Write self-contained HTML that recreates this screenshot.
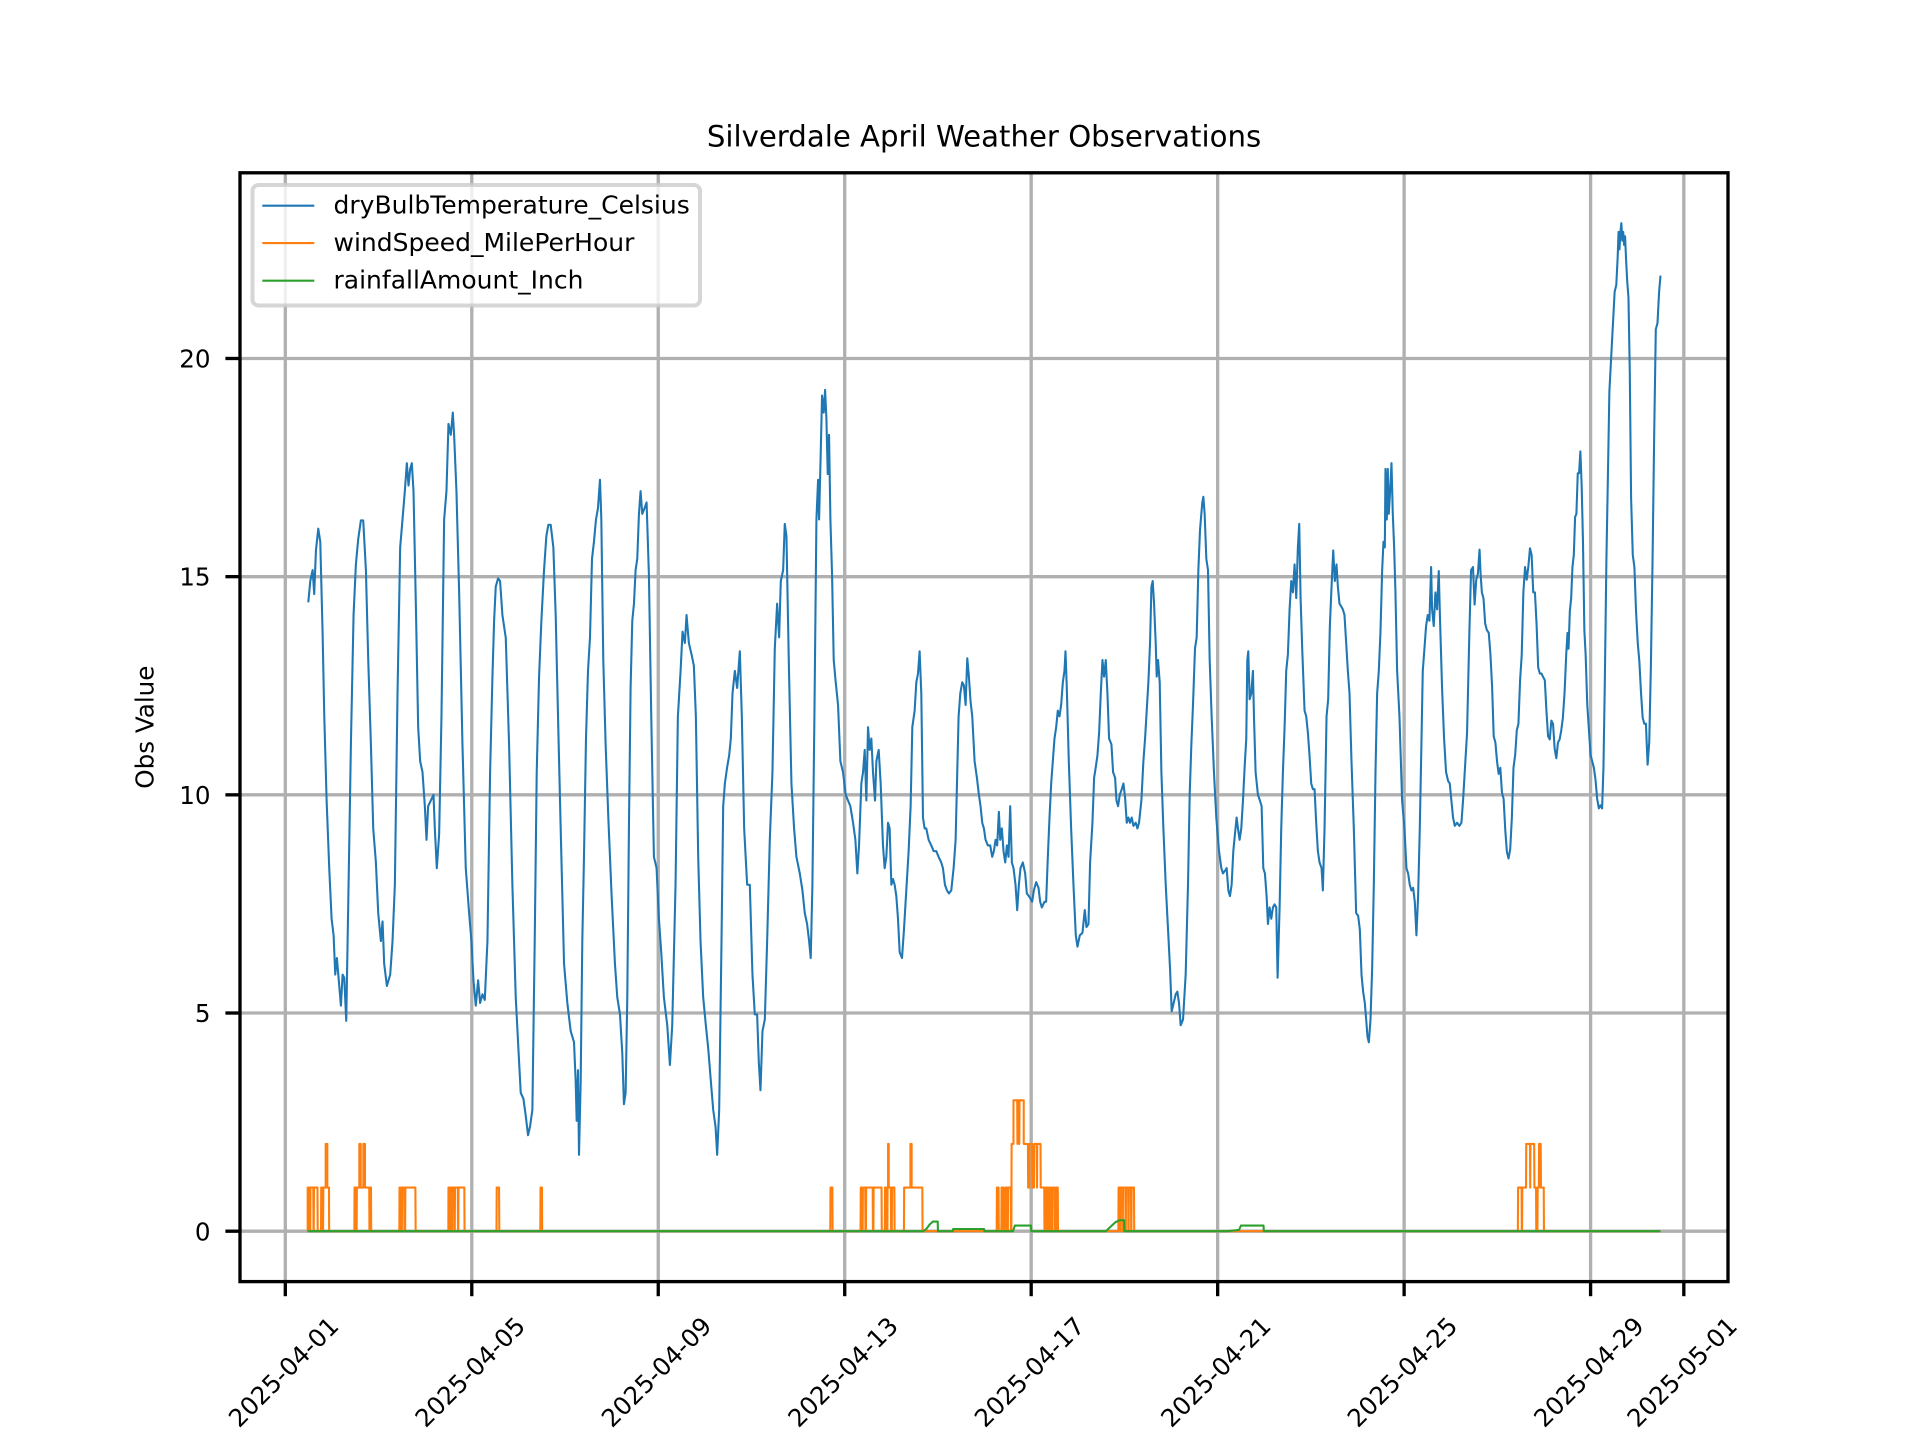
<!DOCTYPE html>
<html>
<head>
<meta charset="utf-8">
<style>
html,body{margin:0;padding:0;background:#fff;}
svg{display:block;}
text{font-family:"DejaVu Sans","Liberation Sans",sans-serif;fill:#000;}
</style>
</head>
<body>
<svg width="1920" height="1440" viewBox="0 0 1920 1440" xmlns="http://www.w3.org/2000/svg">
<rect x="0" y="0" width="1920" height="1440" fill="#fff"/>

<!-- grid -->
<g stroke="#b0b0b0" stroke-width="3.33" fill="none">
<line x1="285.31" y1="172.8" x2="285.31" y2="1281.6"/>
<line x1="471.78" y1="172.8" x2="471.78" y2="1281.6"/>
<line x1="658.25" y1="172.8" x2="658.25" y2="1281.6"/>
<line x1="844.71" y1="172.8" x2="844.71" y2="1281.6"/>
<line x1="1031.18" y1="172.8" x2="1031.18" y2="1281.6"/>
<line x1="1217.65" y1="172.8" x2="1217.65" y2="1281.6"/>
<line x1="1404.12" y1="172.8" x2="1404.12" y2="1281.6"/>
<line x1="1590.59" y1="172.8" x2="1590.59" y2="1281.6"/>
<line x1="1683.82" y1="172.8" x2="1683.82" y2="1281.6"/>
<line x1="240" y1="1231.2" x2="1728" y2="1231.2"/>
<line x1="240" y1="1013.02" x2="1728" y2="1013.02"/>
<line x1="240" y1="794.84" x2="1728" y2="794.84"/>
<line x1="240" y1="576.66" x2="1728" y2="576.66"/>
<line x1="240" y1="358.48" x2="1728" y2="358.48"/>
</g>

<!-- data series -->
<g transform="matrix(46.617 0 0 -43.636 285.31 1231.2)" fill="none" stroke-linejoin="round">
<path vector-effect="non-scaling-stroke" stroke="#1f77b4" stroke-width="2.08" d="M0.493,14.41 L0.536,14.9 L0.586,15.15 L0.62,14.6 L0.657,15.6 L0.707,16.1 L0.75,15.8 L0.8,13.7 L0.836,11.8 L0.886,9.87 L0.943,8.3 L0.993,7.16 L1.036,6.78 L1.071,5.88 L1.107,6.26 L1.157,5.62 L1.193,5.17 L1.229,5.88 L1.264,5.81 L1.307,4.82 L1.357,7.94 L1.407,11.16 L1.464,14.12 L1.514,15.28 L1.564,15.86 L1.621,16.29 L1.671,16.29 L1.729,15.15 L1.779,13.09 L1.836,11.16 L1.886,9.23 L1.943,8.45 L1.993,7.29 L2.05,6.65 L2.086,7.1 L2.121,6.13 L2.179,5.62 L2.25,5.88 L2.3,6.65 L2.35,7.94 L2.407,12.32 L2.464,15.67 L2.514,16.31 L2.564,16.96 L2.607,17.6 L2.643,17.09 L2.679,17.47 L2.714,17.6 L2.75,16.96 L2.8,14.38 L2.85,11.55 L2.893,10.77 L2.943,10.52 L2.993,9.74 L3.029,8.97 L3.064,9.74 L3.121,9.87 L3.179,10.0 L3.207,9.23 L3.25,8.32 L3.3,9.1 L3.35,11.8 L3.407,16.31 L3.457,16.96 L3.5,18.5 L3.55,18.25 L3.593,18.76 L3.621,18.25 L3.671,16.96 L3.729,14.64 L3.8,11.16 L3.871,8.32 L3.943,7.29 L3.993,6.65 L4.036,5.75 L4.086,5.17 L4.136,5.75 L4.179,5.23 L4.229,5.43 L4.279,5.3 L4.336,6.65 L4.393,10.52 L4.443,12.7 L4.479,13.99 L4.514,14.77 L4.564,14.96 L4.607,14.9 L4.657,14.12 L4.729,13.6 L4.8,11.16 L4.871,7.94 L4.943,5.36 L4.993,4.33 L5.05,3.17 L5.107,3.04 L5.157,2.65 L5.207,2.2 L5.25,2.4 L5.3,2.78 L5.35,6.65 L5.393,10.52 L5.443,12.7 L5.493,13.99 L5.55,15.15 L5.6,15.93 L5.643,16.19 L5.693,16.19 L5.75,15.67 L5.8,14.12 L5.85,11.8 L5.907,9.23 L5.979,6.13 L6.05,5.23 L6.121,4.59 L6.193,4.33 L6.229,3.43 L6.25,2.53 L6.279,3.69 L6.3,1.75 L6.336,3.43 L6.371,6.65 L6.407,8.58 L6.45,11.29 L6.493,12.84 L6.536,13.61 L6.579,15.41 L6.621,15.8 L6.664,16.31 L6.707,16.57 L6.75,17.22 L6.779,16.31 L6.821,13.09 L6.871,11.16 L6.929,9.48 L7.0,7.68 L7.071,6.13 L7.121,5.36 L7.179,4.97 L7.229,4.07 L7.264,2.91 L7.3,3.17 L7.336,5.36 L7.371,9.23 L7.407,12.45 L7.443,13.99 L7.479,14.38 L7.514,15.15 L7.55,15.41 L7.586,16.44 L7.621,16.96 L7.657,16.44 L7.707,16.57 L7.75,16.7 L7.8,15.03 L7.85,11.8 L7.907,8.58 L7.964,8.32 L8.014,7.16 L8.064,6.39 L8.121,5.36 L8.193,4.72 L8.25,3.81 L8.3,4.72 L8.371,7.94 L8.421,11.8 L8.429,11.93 L8.479,12.84 L8.521,13.74 L8.571,13.48 L8.607,14.12 L8.657,13.48 L8.714,13.22 L8.764,12.96 L8.807,11.8 L8.857,8.58 L8.907,6.65 L8.964,5.36 L9.021,4.72 L9.071,4.2 L9.129,3.43 L9.179,2.78 L9.229,2.4 L9.264,1.75 L9.307,2.78 L9.357,6.65 L9.393,9.74 L9.429,10.26 L9.479,10.64 L9.521,10.9 L9.557,11.29 L9.593,12.32 L9.643,12.84 L9.693,12.45 L9.75,13.29 L9.793,11.8 L9.843,9.23 L9.907,7.94 L9.964,7.94 L10.021,5.88 L10.071,4.97 L10.121,4.97 L10.157,3.88 L10.193,3.23 L10.236,4.59 L10.286,4.85 L10.336,6.65 L10.393,8.97 L10.45,10.52 L10.5,13.35 L10.55,14.38 L10.593,13.61 L10.629,14.9 L10.679,15.15 L10.714,16.21 L10.75,15.93 L10.8,13.09 L10.857,10.26 L10.914,9.23 L10.964,8.58 L11.036,8.2 L11.093,7.81 L11.143,7.29 L11.193,7.04 L11.236,6.65 L11.271,6.26 L11.307,7.94 L11.35,11.8 L11.393,16.31 L11.429,17.22 L11.45,16.31 L11.486,17.86 L11.514,19.15 L11.55,18.76 L11.579,19.28 L11.607,18.63 L11.636,17.35 L11.664,18.25 L11.693,16.31 L11.729,15.03 L11.764,13.09 L11.807,12.58 L11.857,12.06 L11.907,10.77 L11.964,10.52 L12.021,10.0 L12.071,9.87 L12.121,9.74 L12.179,9.36 L12.229,8.97 L12.271,8.2 L12.307,8.84 L12.357,10.26 L12.393,10.52 L12.429,11.03 L12.464,9.87 L12.5,11.55 L12.536,11.03 L12.571,11.29 L12.607,10.52 L12.65,9.87 L12.679,10.77 L12.729,11.03 L12.771,10.26 L12.821,8.84 L12.857,8.32 L12.893,8.58 L12.929,9.36 L12.964,9.23 L13.0,7.94 L13.036,8.07 L13.071,7.94 L13.107,7.68 L13.143,7.16 L13.179,6.39 L13.229,6.26 L13.271,6.91 L13.321,7.81 L13.371,8.71 L13.414,9.74 L13.45,11.55 L13.5,11.93 L13.536,12.58 L13.571,12.77 L13.607,13.29 L13.643,12.32 L13.679,9.48 L13.714,9.23 L13.75,9.23 L13.8,8.97 L13.857,8.84 L13.907,8.71 L13.964,8.71 L14.014,8.58 L14.071,8.45 L14.107,8.32 L14.15,7.94 L14.193,7.81 L14.236,7.74 L14.286,7.81 L14.336,8.32 L14.379,8.97 L14.414,10.52 L14.443,11.8 L14.479,12.32 L14.521,12.58 L14.557,12.51 L14.593,12.06 L14.629,13.13 L14.664,12.71 L14.7,12.13 L14.736,11.8 L14.786,10.77 L14.836,10.39 L14.879,10.0 L14.914,9.74 L14.95,9.36 L14.986,9.23 L15.021,8.97 L15.071,8.84 L15.121,8.84 L15.164,8.58 L15.2,8.71 L15.236,8.97 L15.271,8.84 L15.307,9.61 L15.336,8.97 L15.371,9.23 L15.407,8.71 L15.443,8.45 L15.479,8.84 L15.514,8.58 L15.55,9.74 L15.586,8.45 L15.621,8.32 L15.664,7.94 L15.7,7.36 L15.736,7.94 L15.771,8.32 L15.821,8.45 L15.871,8.2 L15.907,7.74 L15.95,7.68 L15.986,7.62 L16.021,7.55 L16.057,7.81 L16.107,8.0 L16.157,7.87 L16.193,7.55 L16.229,7.42 L16.286,7.55 L16.321,7.55 L16.357,8.58 L16.393,9.48 L16.429,10.26 L16.464,10.77 L16.5,11.29 L16.536,11.55 L16.571,11.93 L16.607,11.8 L16.643,12.06 L16.679,12.58 L16.714,12.84 L16.736,13.29 L16.764,12.45 L16.807,10.77 L16.857,9.23 L16.907,7.94 L16.957,6.78 L16.993,6.52 L17.043,6.78 L17.1,6.84 L17.15,7.36 L17.186,6.97 L17.229,7.04 L17.264,8.45 L17.314,9.36 L17.35,10.39 L17.386,10.64 L17.421,10.9 L17.457,11.42 L17.493,12.32 L17.529,13.09 L17.564,12.71 L17.6,13.09 L17.636,12.32 L17.671,11.29 L17.721,11.16 L17.757,10.52 L17.8,10.39 L17.829,9.87 L17.864,9.74 L17.9,10.0 L17.943,10.13 L17.979,10.26 L18.014,9.94 L18.05,9.36 L18.086,9.48 L18.121,9.36 L18.157,9.48 L18.193,9.29 L18.243,9.36 L18.279,9.23 L18.314,9.36 L18.364,9.87 L18.407,10.77 L18.443,11.29 L18.471,11.8 L18.514,12.58 L18.55,13.48 L18.579,14.77 L18.607,14.9 L18.636,14.38 L18.671,13.48 L18.693,12.71 L18.721,13.09 L18.757,12.58 L18.793,10.52 L18.836,9.23 L18.886,7.94 L18.936,6.91 L18.979,6.01 L19.014,5.04 L19.057,5.23 L19.1,5.43 L19.136,5.49 L19.171,5.23 L19.207,4.72 L19.257,4.85 L19.314,5.88 L19.364,7.94 L19.4,10.0 L19.436,11.16 L19.471,12.06 L19.514,13.35 L19.55,13.61 L19.586,15.15 L19.621,16.06 L19.65,16.44 L19.671,16.7 L19.693,16.83 L19.721,16.44 L19.757,15.41 L19.793,15.15 L19.829,13.09 L19.871,11.8 L19.921,10.52 L19.971,9.48 L20.029,8.71 L20.079,8.32 L20.114,8.2 L20.157,8.26 L20.193,8.32 L20.229,7.81 L20.264,7.68 L20.3,7.94 L20.336,8.71 L20.371,9.1 L20.407,9.48 L20.436,9.23 L20.471,8.97 L20.507,9.23 L20.543,9.87 L20.579,10.64 L20.614,11.29 L20.636,13.09 L20.657,13.29 L20.686,12.19 L20.721,12.32 L20.757,12.84 L20.779,11.8 L20.814,10.52 L20.864,10.0 L20.907,9.87 L20.943,9.74 L20.979,8.32 L21.014,8.2 L21.05,7.68 L21.079,7.04 L21.114,7.42 L21.15,7.16 L21.186,7.42 L21.221,7.49 L21.257,7.42 L21.286,5.81 L21.329,7.42 L21.364,9.23 L21.4,10.52 L21.436,11.55 L21.471,12.84 L21.507,13.22 L21.543,14.25 L21.579,14.9 L21.614,14.64 L21.65,15.28 L21.686,14.51 L21.721,15.67 L21.75,16.21 L21.779,14.51 L21.814,13.35 L21.864,11.93 L21.9,11.8 L21.936,11.42 L21.971,10.9 L22.007,10.26 L22.043,10.13 L22.079,10.13 L22.114,9.36 L22.15,8.71 L22.186,8.45 L22.229,8.32 L22.257,7.81 L22.293,9.23 L22.336,11.8 L22.371,12.19 L22.407,13.87 L22.443,14.77 L22.479,15.6 L22.514,14.9 L22.55,15.28 L22.579,14.77 L22.614,14.38 L22.65,14.32 L22.686,14.25 L22.721,14.12 L22.757,13.48 L22.793,12.84 L22.829,12.32 L22.871,10.77 L22.921,9.23 L22.971,7.29 L23.014,7.23 L23.05,6.91 L23.086,5.88 L23.121,5.49 L23.157,5.23 L23.186,4.85 L23.214,4.46 L23.243,4.33 L23.279,4.85 L23.314,6.01 L23.35,7.94 L23.386,10.52 L23.421,12.32 L23.457,12.84 L23.493,13.74 L23.529,15.15 L23.557,15.8 L23.586,15.67 L23.6,17.47 L23.629,16.31 L23.65,17.47 L23.671,16.44 L23.7,16.96 L23.729,17.6 L23.757,16.44 L23.786,15.67 L23.814,14.64 L23.85,12.84 L23.9,11.8 L23.957,9.87 L24.007,9.23 L24.05,8.32 L24.086,8.2 L24.121,7.94 L24.157,7.81 L24.193,7.87 L24.229,7.55 L24.264,6.78 L24.3,7.68 L24.336,9.23 L24.371,11.16 L24.4,12.84 L24.436,13.35 L24.471,13.87 L24.507,14.12 L24.543,13.99 L24.579,15.22 L24.6,14.25 L24.636,13.87 L24.671,14.64 L24.707,14.25 L24.743,15.13 L24.771,13.99 L24.814,12.45 L24.857,11.29 L24.9,10.52 L24.943,10.32 L24.979,10.26 L25.014,9.87 L25.05,9.48 L25.086,9.29 L25.136,9.36 L25.186,9.29 L25.229,9.36 L25.264,9.87 L25.3,10.52 L25.35,11.42 L25.4,13.74 L25.436,15.15 L25.477,15.22 L25.512,14.36 L25.547,14.93 L25.583,15.07 L25.618,15.62 L25.64,15.07 L25.668,14.64 L25.703,14.5 L25.739,13.92 L25.774,13.78 L25.816,13.71 L25.852,13.21 L25.887,12.49 L25.922,11.34 L25.958,11.2 L25.993,10.77 L26.028,10.48 L26.064,10.62 L26.099,10.05 L26.134,9.91 L26.17,9.19 L26.205,8.69 L26.24,8.54 L26.276,8.76 L26.311,9.47 L26.346,10.62 L26.382,10.91 L26.417,11.48 L26.452,11.63 L26.488,12.63 L26.523,13.21 L26.558,14.64 L26.594,15.22 L26.629,14.93 L26.664,15.22 L26.7,15.65 L26.735,15.5 L26.77,14.64 L26.806,14.64 L26.841,13.92 L26.876,12.92 L26.912,12.78 L26.947,12.78 L26.982,12.7 L27.018,12.63 L27.053,11.92 L27.088,11.34 L27.124,11.27 L27.159,11.7 L27.194,11.63 L27.23,11.05 L27.265,10.84 L27.3,11.2 L27.336,11.27 L27.371,11.48 L27.406,11.77 L27.442,12.35 L27.477,13.21 L27.505,13.71 L27.527,13.35 L27.555,14.21 L27.583,14.5 L27.611,15.22 L27.64,15.5 L27.668,16.37 L27.696,16.44 L27.725,17.37 L27.753,17.37 L27.781,17.87 L27.809,17.08 L27.837,15.79 L27.866,13.78 L27.894,13.21 L27.929,12.06 L27.965,11.48 L28.0,10.91 L28.035,10.77 L28.071,10.62 L28.106,10.34 L28.141,9.91 L28.177,9.69 L28.212,9.76 L28.247,9.69 L28.276,10.62 L28.304,12.49 L28.339,15.36 L28.375,17.51 L28.403,19.24 L28.431,19.81 L28.459,20.38 L28.488,20.96 L28.516,21.53 L28.551,21.68 L28.58,22.3 L28.6,22.9 L28.62,22.5 L28.64,22.9 L28.66,23.1 L28.68,22.7 L28.7,22.9 L28.72,22.6 L28.74,22.8 L28.76,22.3 L28.784,21.8 L28.813,21.39 L28.841,19.67 L28.869,16.8 L28.905,15.5 L28.94,15.22 L28.975,14.21 L29.011,13.49 L29.046,13.06 L29.081,12.35 L29.117,11.77 L29.152,11.63 L29.187,11.63 L29.223,10.69 L29.258,11.2 L29.293,12.92 L29.329,15.36 L29.364,18.23 L29.399,20.67 L29.435,20.81 L29.47,21.53 L29.5,21.9"/>
<path vector-effect="non-scaling-stroke" stroke="#ff7f0e" stroke-width="2.08" d="M0.479,0 L0.48,0 L0.48,1 L0.52,1 L0.525,0 L0.535,0 L0.54,1 L0.60,1 L0.605,0 L0.61,0 L0.615,1 L0.69,1 L0.695,0 L0.766,0 L0.77,1 L0.80,1 L0.805,0 L0.81,0 L0.815,1 L0.866,1 L0.866,2 L0.901,2 L0.901,1 L0.937,1 L0.94,0 L1.481,0 L1.485,1 L1.52,1 L1.525,0 L1.53,0 L1.535,1 L1.588,1 L1.588,2 L1.617,2 L1.617,1 L1.674,1 L1.674,2 L1.709,2 L1.709,1 L1.80,1 L1.805,0 L1.81,0 L1.815,1 L1.838,1 L1.842,0 L2.446,0 L2.45,1 L2.48,1 L2.485,0 L2.50,0 L2.505,1 L2.55,1 L2.555,0 L2.57,0 L2.575,1 L2.79,1 L2.796,0 L3.497,0 L3.50,1 L3.52,1 L3.525,0 L3.53,0 L3.535,1 L3.56,1 L3.565,0 L3.575,0 L3.58,1 L3.62,1 L3.625,0 L3.635,0 L3.64,1 L3.70,1 L3.705,0 L3.71,0 L3.715,1 L3.84,1 L3.845,0 L4.53,0 L4.535,1 L4.585,1 L4.59,0 L5.47,0 L5.475,1 L5.505,1 L5.51,0 L11.69,0 L11.695,1 L11.735,1 L11.74,0 L12.34,0 L12.345,1 L12.37,1 L12.375,0 L12.385,0 L12.39,1 L12.44,1 L12.445,0 L12.455,0 L12.46,1 L12.60,1 L12.605,0 L12.615,0 L12.62,1 L12.79,1 L12.795,0 L12.86,0 L12.865,1 L12.90,1 L12.905,0 L12.915,0 L12.92,1 L12.93,1 L12.93,2 L12.945,2 L12.945,1 L12.99,1 L12.995,0 L13.01,0 L13.015,1 L13.065,1 L13.07,0 L13.27,0 L13.275,1 L13.41,1 L13.41,2 L13.435,2 L13.435,1 L13.665,1 L13.67,0 L15.26,0 L15.265,1 L15.30,1 L15.305,0 L15.36,0 L15.365,1 L15.40,1 L15.405,0 L15.44,0 L15.445,1 L15.48,1 L15.485,0 L15.50,0 L15.505,1 L15.56,1 L15.565,0 L15.575,0 L15.58,2 L15.62,2 L15.62,3 L15.70,3 L15.705,2 L15.71,3 L15.74,3 L15.745,2 L15.75,3 L15.84,3 L15.84,2 L15.93,2 L15.935,1 L15.96,1 L15.965,2 L16.02,2 L16.025,1 L16.06,1 L16.065,2 L16.12,2 L16.125,1 L16.13,2 L16.20,2 L16.205,1 L16.28,1 L16.285,0 L16.31,0 L16.315,1 L16.35,1 L16.355,0 L16.38,0 L16.385,1 L16.42,1 L16.425,0 L16.45,0 L16.455,1 L16.50,1 L16.505,0 L16.53,0 L16.535,1 L16.57,1 L16.575,0 L17.87,0 L17.875,1 L17.90,1 L17.905,0 L17.91,0 L17.915,1 L17.955,1 L17.96,0 L17.965,0 L17.97,1 L18.02,1 L18.025,0 L18.03,0 L18.035,1 L18.08,1 L18.085,0 L18.09,0 L18.095,1 L18.14,1 L18.145,0 L18.15,0 L18.155,1 L18.205,1 L18.21,0 L26.44,0 L26.445,1 L26.52,1 L26.525,0 L26.53,0 L26.535,1 L26.615,1 L26.62,2 L26.70,2 L26.705,1 L26.71,2 L26.79,2 L26.795,1 L26.83,1 L26.835,0 L26.86,0 L26.865,1 L26.89,1 L26.895,2 L26.93,2 L26.935,1 L26.995,1 L27.0,0 L29.5,0"/>
<path vector-effect="non-scaling-stroke" stroke="#2ca02c" stroke-width="2.08" d="M0.479,0 L13.68,0 L13.75,0.05 L13.82,0.15 L13.89,0.22 L13.995,0.22 L14.0,0 L14.32,0 L14.325,0.05 L14.99,0.05 L14.995,0 L15.61,0 L15.65,0.13 L15.995,0.13 L16.0,0 L17.6,0 L17.7,0.1 L17.8,0.2 L17.886,0.25 L17.995,0.25 L18.0,0 L20.2,0 L20.46,0.03 L20.5,0.13 L20.985,0.13 L20.99,0 L29.5,0"/>
</g>

<!-- spines -->
<rect x="240" y="172.8" width="1488" height="1108.8" fill="none" stroke="#000" stroke-width="3.33" stroke-linejoin="miter"/>

<!-- ticks -->
<g stroke="#000" stroke-width="3.33">
<line x1="225.4" y1="1231.2" x2="240" y2="1231.2"/>
<line x1="225.4" y1="1013.02" x2="240" y2="1013.02"/>
<line x1="225.4" y1="794.84" x2="240" y2="794.84"/>
<line x1="225.4" y1="576.66" x2="240" y2="576.66"/>
<line x1="225.4" y1="358.48" x2="240" y2="358.48"/>
<line x1="285.31" y1="1281.6" x2="285.31" y2="1296.2"/>
<line x1="471.78" y1="1281.6" x2="471.78" y2="1296.2"/>
<line x1="658.25" y1="1281.6" x2="658.25" y2="1296.2"/>
<line x1="844.71" y1="1281.6" x2="844.71" y2="1296.2"/>
<line x1="1031.18" y1="1281.6" x2="1031.18" y2="1296.2"/>
<line x1="1217.65" y1="1281.6" x2="1217.65" y2="1296.2"/>
<line x1="1404.12" y1="1281.6" x2="1404.12" y2="1296.2"/>
<line x1="1590.59" y1="1281.6" x2="1590.59" y2="1296.2"/>
<line x1="1683.82" y1="1281.6" x2="1683.82" y2="1296.2"/>
</g>

<!-- y tick labels -->
<g font-size="24.6" text-anchor="end">
<text x="210.5" y="1240.3">0</text>
<text x="210.5" y="1022.1">5</text>
<text x="210.5" y="803.9">10</text>
<text x="210.5" y="585.7">15</text>
<text x="210.5" y="367.6">20</text>
</g>

<!-- x tick labels -->
<g font-size="24.6" text-anchor="middle">
<text transform="translate(283.3,1371.7) rotate(-45)" x="0" y="9">2025-04-01</text>
<text transform="translate(469.8,1371.7) rotate(-45)" x="0" y="9">2025-04-05</text>
<text transform="translate(656.2,1371.7) rotate(-45)" x="0" y="9">2025-04-09</text>
<text transform="translate(842.7,1371.7) rotate(-45)" x="0" y="9">2025-04-13</text>
<text transform="translate(1029.2,1371.7) rotate(-45)" x="0" y="9">2025-04-17</text>
<text transform="translate(1215.6,1371.7) rotate(-45)" x="0" y="9">2025-04-21</text>
<text transform="translate(1402.1,1371.7) rotate(-45)" x="0" y="9">2025-04-25</text>
<text transform="translate(1588.6,1371.7) rotate(-45)" x="0" y="9">2025-04-29</text>
<text transform="translate(1681.8,1371.7) rotate(-45)" x="0" y="9">2025-05-01</text>
</g>

<!-- axis label & title -->
<text font-size="24.6" text-anchor="middle" transform="translate(153.3,727.2) rotate(-90)">Obs Value</text>
<text font-size="29.2" text-anchor="middle" x="984" y="146.7">Silverdale April Weather Observations</text>

<!-- legend -->
<rect x="252.5" y="185" width="447.5" height="120.5" rx="6" ry="6" fill="#ffffff" fill-opacity="0.8" stroke="#cccccc" stroke-opacity="0.8" stroke-width="4"/>
<g stroke-width="2.08">
<line x1="262.3" y1="205.7" x2="314.3" y2="205.7" stroke="#1f77b4"/>
<line x1="262.3" y1="243.1" x2="314.3" y2="243.1" stroke="#ff7f0e"/>
<line x1="262.3" y1="280.7" x2="314.3" y2="280.7" stroke="#2ca02c"/>
</g>
<g font-size="25">
<text x="333.5" y="213.5">dryBulbTemperature_Celsius</text>
<text x="333.5" y="251">windSpeed_MilePerHour</text>
<text x="333.5" y="288.5">rainfallAmount_Inch</text>
</g>
</svg>
</body>
</html>
